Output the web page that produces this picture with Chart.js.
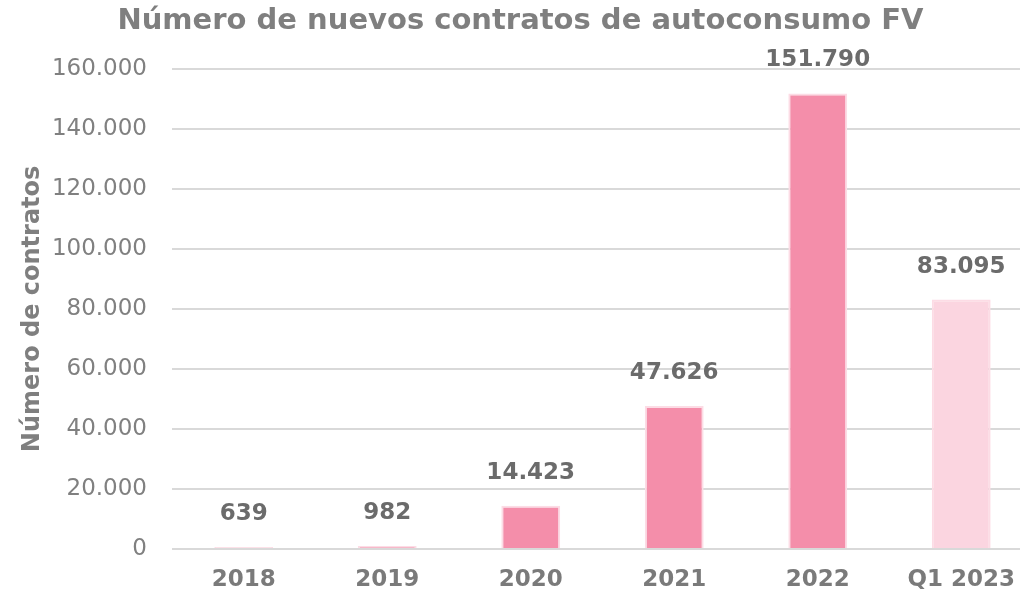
<!DOCTYPE html>
<html>
<head>
<meta charset="utf-8">
<script src="https://cdn.jsdelivr.net/npm/chart.js@4.4.0/dist/chart.umd.min.js"></script>
<style>
  html, body { margin: 0; padding: 0; background: #fff; overflow: hidden; }
  #wrap { width: 1035px; height: 595px; }
</style>
</head>
<body>
<div id="wrap"><canvas id="chartCanvas"></canvas></div>
<script>
const categories = ["2018", "2019", "2020", "2021", "2022", "Q1 2023"];
const contratos = [639, 982, 14423, 47626, 151790, 83095];
const yTicks = [0, 20000, 40000, 60000, 80000, 100000, 120000, 140000, 160000];
const barColors = ["#FBD5E0", "#F7B9CA", "#F48EAA", "#F48EAA", "#F48EAA", "#FBD5E0"];

const FONT = "'DejaVu Sans', Verdana, sans-serif";

// formato con punto de miles
const fmt = (v) => String(v).replace(/\B(?=(\d{3})+(?!\d))/g, ".");

const barLabels = {
  id: "barLabels",
  afterDatasetsDraw(chart) {
    const ctx = chart.ctx;
    const meta = chart.getDatasetMeta(0);
    ctx.save();
    ctx.font = "bold 23px " + FONT;
    ctx.fillStyle = "#6B6B6B";
    ctx.textAlign = "center";
    ctx.textBaseline = "middle";
    meta.data.forEach((bar, i) => {
      ctx.fillText(fmt(contratos[i]), bar.x, bar.y - 33);
    });
    ctx.restore();
  },
};

const ctx = document.getElementById("chartCanvas").getContext("2d");

new Chart(ctx, {
  type: "bar",
  data: {
    labels: categories,
    datasets: [
      {
        data: contratos,
        backgroundColor: barColors,
        borderColor: "#FCDCE5",
        borderWidth: 2,
        barPercentage: 0.82,
        categoryPercentage: 0.5,
      },
    ],
  },
  options: {
    responsive: true,
    maintainAspectRatio: false,
    animation: false,
    layout: { padding: { top: 2, right: 2, left: 8, bottom: 0 } },
    plugins: {
      legend: { display: false },
      tooltip: { enabled: false },
      title: {
        display: true,
        text: "Número de nuevos contratos de autoconsumo FV",
        color: "#7F7F7F",
        font: { family: FONT, size: 29, weight: "bold" },
        padding: { top: 2, bottom: 30 },
      },
    },
    scales: {
      x: {
        grid: { display: false, drawTicks: false },
        border: { display: false },
        ticks: {
          color: "#7A7A7A",
          font: { family: FONT, size: 23, weight: "bold" },
          padding: 17,
          maxRotation: 0,
        },
        afterFit(axis) {
          axis.height = 46;
        },
      },
      y: {
        min: 0,
        max: 160000,
        afterBuildTicks(axis) {
          axis.ticks = yTicks.map((v) => ({ value: v }));
        },
        grid: { color: "#D9D9D9", lineWidth: 2, drawTicks: false },
        border: { display: false },
        ticks: {
          color: "#808080",
          font: { family: FONT, size: 23 },
          padding: 25,
          callback: (v) => fmt(v),
        },
        title: {
          display: true,
          text: "Número de contratos",
          color: "#7F7F7F",
          font: { family: FONT, size: 24, weight: "bold" },
          padding: { top: 10, bottom: 5 },
        },
        afterFit(axis) {
          axis.width = 164;
        },
      },
    },
  },
  plugins: [barLabels],
});
</script>
</body>
</html>
